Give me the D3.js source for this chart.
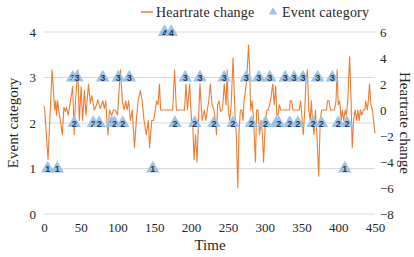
<!DOCTYPE html>
<html>
<head>
<meta charset="utf-8">
<script src="https://cdn.jsdelivr.net/npm/d3@7"></script>
<style>
  body { margin: 0; background: #fff; }
  text { font-family: "Liberation Serif", "DejaVu Serif", serif; }
</style>
</head>
<body>
<div id="chart"></div>
<script>

// heartrate change over time (right axis)
var hrTime = [0, 1, 5.5, 11, 14.5, 16, 17, 18.5, 20, 25, 27, 29, 30.5, 33, 35.5, 39, 41, 42.5, 46, 48,
  50.5, 52.5, 55, 57, 60.5, 63, 65, 68.5, 72, 73, 76.5, 80, 82, 84, 85.5, 87, 89, 92, 94.5, 97,
  100, 102, 104, 106.5, 109, 111, 113, 115, 117.5, 120, 123, 125.5, 128, 131, 133.5, 136, 139, 142, 143.5, 146.5,
  149, 151, 153, 155, 157, 158.5, 175, 177.5, 180, 191, 193, 195, 198, 200.5, 202, 204, 206, 208, 210, 212,
  215, 218, 220, 222, 224, 226, 228.5, 231, 233, 234.5, 236, 238, 240, 242, 243.5, 245, 247.5, 249, 250.5, 252.5,
  254.5, 257, 260, 261.5, 263.5, 265, 267, 269, 270.5, 272, 275, 276.5, 278, 279.5, 281, 283, 285, 287.5, 289, 291,
  293, 295, 297, 298.5, 301, 303, 305, 308, 311, 313, 315, 316.5, 318, 320, 322, 334, 334.5, 336.5, 338.5, 347,
  349, 351, 352.5, 354.5, 356, 358, 360, 362, 363.5, 365, 367, 369, 371, 373.5, 375.5, 377.5, 384, 385.5, 387.5, 389.5,
  395, 397, 398.5, 400, 402, 404, 405.5, 407.5, 409.5, 411, 413, 415.5, 417.5, 419, 421, 423, 425, 426.5, 428.5, 430,
  432, 434, 436, 437.5, 439.5, 441, 442.5, 444.5, 446.5, 448, 450];
var hrValue = [0.3, 0, -3.8, 3.1, 0, 0.7, -0.4, 0.7, 0, -1.9, 0.2, -0.1, 0.2, -0.4, 0.5, 1.8, -1.9, 0.5, 3.1, -0.8,
  1.8, -0.8, 1.5, -0.4, 2.0, 0.5, 1.1, 0, 0.5, 0.8, 0.1, 0.7, 0.1, 0.7, -0.8, -1.9, 0, -0.4, 0, 0,
  -0.4, 1.5, 3.1, 0.7, 0, 0.7, 0, 0.7, -0.8, 0, -2.9, -0.8, 0.7, 1.5, 0.7, -0.8, -1.9, -0.8, -2.9, -0.8,
  -0.8, -0.1, 0.7, 0.4, 2.0, 0, 0, 3.1, 0, 0, 2.0, 0, 2.0, -0.8, -0.8, -3.8, -1.9, -4, -0.8, 2.0,
  -0.8, 0, -0.8, 0, 0.7, 2.0, 0.4, 0, -0.8, -1.9, 0.4, 0.7, -0.1, 0, 0.7, 2.0, 0.4, 3.1, 0, -0.8,
  0.4, 4, -0.8, -1.9, -6, -1.9, 0, 0, -0.8, 0.7, 2.0, 3.3, 5.0, 3.3, 0, 0.7, -0.8, -4, 0, 0,
  -1.9, -0.8, -1.9, -4, -0.8, 0, 0, 0.7, 2.0, 0.4, 1.8, -0.4, -0.4, 0.4, 0, 0, 0.7, 0.7, 0, 0,
  0.7, -0.8, -1.9, 0, 2.0, 3.1, 0, -0.8, 0.7, -0.8, -1.9, 0, -1.9, -5.1, -0.8, 0, 0, 0.7, 0.7, 0,
  0, 0.7, 3.1, 0.4, 0.7, -0.8, 0, -0.8, 0, -0.4, 0.7, 4.1, 0.7, -2.9, -0.8, 0, -0.8, 0, -0.8, 0,
  -0.4, 0, 0, 0.7, 0, 0.7, 2.0, 0.4, 0, -0.8, -1.8];

// event categories (left axis)
var eventTime = [5, 18, 148, 409,
  39, 45, 80, 101, 116, 192, 212, 245, 275, 292, 307, 328, 340, 352, 372, 392,
  41, 67, 75, 92, 96, 107, 178, 205, 231, 257, 282, 301, 316, 319, 334, 345, 366, 377, 400, 412,
  164, 173];
var eventCat = [1, 1, 1, 1,
  3, 3, 3, 3, 3, 3, 3, 3, 3, 3, 3, 3, 3, 3, 3, 3,
  2, 2, 2, 2, 2, 2, 2, 2, 2, 2, 2, 2, 2, 2, 2, 2, 2, 2, 2, 2,
  4, 4];

var leftTicks = [0, 1, 2, 3, 4];
var rightTicks = [-8, -6, -4, -2, 0, 2, 4, 6];
var timeTicks = [0, 50, 100, 150, 200, 250, 300, 350, 400, 450];

var W = 414, H = 257;
var margin = { top: 32, right: 39, bottom: 43, left: 44 };
var serif = "'Liberation Serif', 'DejaVu Serif', serif";

var svg = d3.select("#chart").append("svg")
  .attr("width", W)
  .attr("height", H);

var x = d3.scaleLinear().domain([0, 450]).range([margin.left, W - margin.right]);
var yL = d3.scaleLinear().domain([0, 4]).range([H - margin.bottom, margin.top]);
var yR = d3.scaleLinear().domain([-8, 6]).range([H - margin.bottom, margin.top]);

// grid
svg.append("g").selectAll("line.grid")
  .data(leftTicks)
  .enter().append("line")
  .attr("class", "grid")
  .attr("x1", x(0)).attr("x2", x(450))
  .attr("y1", function (d) { return yL(d); })
  .attr("y2", function (d) { return yL(d); })
  .attr("stroke", "#d9d9d9")
  .attr("stroke-width", 1);

// axes
function styleAxis(g) {
  g.attr("font-family", serif).attr("font-size", 13);
  g.select(".domain").remove();
  g.selectAll("text")
    .attr("fill", "#262626")
    .style("font-size", "13px")
    .style("font-family", serif);
}

svg.append("g")
  .attr("transform", "translate(0," + yL(0) + ")")
  .call(d3.axisBottom(x).tickValues(timeTicks).tickSize(0).tickPadding(9))
  .call(styleAxis);

svg.append("g")
  .attr("transform", "translate(" + x(0) + ",0)")
  .call(d3.axisLeft(yL).tickValues(leftTicks).tickSize(0).tickPadding(8)
    .tickFormat(d3.format("d")))
  .call(styleAxis);

svg.append("g")
  .attr("transform", "translate(" + x(450) + ",0)")
  .call(d3.axisRight(yR).tickValues(rightTicks).tickSize(0).tickPadding(5)
    .tickFormat(function (d) { return d < 0 ? "\u2212" + Math.abs(d) : d; }))
  .call(styleAxis);

// heartrate line
var hr = hrTime.map(function (t, i) { return { t: t, v: hrValue[i] }; });
var line = d3.line()
  .x(function (d) { return x(d.t); })
  .y(function (d) { return yR(d.v); });

svg.append("path")
  .datum(hr)
  .attr("d", line)
  .attr("fill", "none")
  .attr("stroke", "#ed7d31")
  .attr("stroke-width", 1.1)
  .attr("stroke-linejoin", "round");

// events
var events = eventTime.map(function (t, i) { return { t: t, c: eventCat[i] }; });
var tri = d3.symbol().type(d3.symbolTriangle).size(80);

var ev = svg.append("g").selectAll("g.ev")
  .data(events)
  .enter().append("g")
  .attr("class", "ev")
  .attr("transform", function (d) { return "translate(" + x(d.t) + "," + yL(d.c) + ")"; });

ev.append("path")
  .attr("d", tri)
  .attr("fill", "#9dc3e6");

ev.append("text")
  .attr("y", 3.5)
  .attr("text-anchor", "middle")
  .attr("fill", "#1f3864")
  .style("font-family", "'Liberation Sans', Arial, sans-serif")
  .style("font-weight", "bold")
  .style("font-size", "9px")
  .text(function (d) { return d.c; });

// axis titles
svg.append("text")
  .attr("transform", "translate(18," + yL(2) + ") rotate(-90)")
  .attr("text-anchor", "middle")
  .attr("fill", "#262626")
  .style("font-size", "15px")
  .text("Event category");

svg.append("text")
  .attr("transform", "translate(400," + yL(2) + ") rotate(90)")
  .attr("text-anchor", "middle")
  .attr("fill", "#262626")
  .style("font-size", "15px")
  .text("Heartrate change");

svg.append("text")
  .attr("x", 210)
  .attr("y", 250)
  .attr("text-anchor", "middle")
  .attr("fill", "#262626")
  .style("font-size", "15px")
  .text("Time");

// legend
var lg = svg.append("g").attr("transform", "translate(141,12)");
lg.append("line")
  .attr("x1", 0).attr("x2", 12)
  .attr("stroke", "#ed7d31").attr("stroke-width", 1.5);
lg.append("text")
  .attr("x", 15).attr("y", 4.5)
  .attr("fill", "#262626")
  .style("font-size", "14px")
  .style("letter-spacing", "0.2px")
  .text("Heartrate change");
lg.append("path")
  .attr("transform", "translate(132,0)")
  .attr("d", d3.symbol().type(d3.symbolTriangle).size(30))
  .attr("fill", "#9dc3e6");
lg.append("text")
  .attr("x", 141).attr("y", 4.5)
  .attr("fill", "#262626")
  .style("font-size", "14px")
  .style("letter-spacing", "0.2px")
  .text("Event category");

</script>
</body>
</html>
